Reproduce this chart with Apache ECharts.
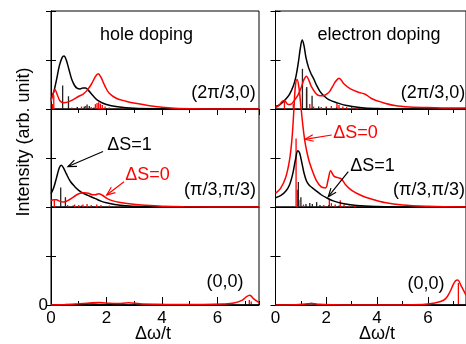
<!DOCTYPE html>
<html>
<head>
<meta charset="utf-8">
<script src="https://cdn.jsdelivr.net/npm/echarts@6/dist/echarts.min.js"></script>
<style>
  html, body { margin: 0; padding: 0; background: #fff; }
  #chart { width: 466px; height: 344px; }
</style>
</head>
<body>
<div id="chart"></div>
<script>
// ---- data: [Δω/t, intensity] ----
// hole doping, (2π/3,0)
const holeA_black = [[0,0.2],[0.1,0.35],[0.2,0.6],[0.3,0.88],[0.4,1.05],[0.47,1.08],[0.55,1.0],[0.65,0.8],[0.75,0.6],[0.85,0.48],[0.95,0.42],[1.05,0.41],[1.15,0.43],[1.25,0.43],[1.35,0.38],[1.5,0.28],[1.7,0.17],[2.0,0.09],[2.4,0.045],[3.0,0.015],[4.0,0.005],[5,0],[7.5,0]];
const holeA_red = [[0,0.15],[0.07,0.3],[0.14,0.4],[0.22,0.3],[0.32,0.17],[0.45,0.13],[0.6,0.14],[0.8,0.19],[1.0,0.26],[1.15,0.3],[1.3,0.38],[1.45,0.5],[1.6,0.66],[1.7,0.72],[1.8,0.65],[1.95,0.46],[2.1,0.32],[2.35,0.22],[2.7,0.16],[3.1,0.11],[3.5,0.07],[4.0,0.035],[4.6,0.01],[5.5,0],[7.5,0]];
const holeA_sticksBlack = [[0.42,0.48],[0.63,0.26],[0.95,0.04],[1.2,0.05],[1.3,0.09],[1.38,0.06],[1.55,0.03],[2.0,0.02],[2.3,0.015]];
const holeA_sticksRed = [[0.05,0.1],[0.1,0.28],[0.75,0.03],[0.95,0.04],[1.1,0.05],[1.25,0.06],[1.45,0.04],[1.6,0.1],[1.66,0.12],[1.72,0.14],[1.78,0.11],[1.85,0.08],[1.95,0.05],[2.1,0.03],[2.3,0.02],[2.6,0.015]];

// hole doping, (π/3,π/3)
const holeB_black = [[0,0.27],[0.1,0.4],[0.2,0.6],[0.3,0.8],[0.37,0.85],[0.45,0.8],[0.55,0.68],[0.7,0.52],[0.85,0.42],[1.0,0.34],[1.2,0.27],[1.4,0.22],[1.6,0.17],[1.8,0.12],[2.0,0.085],[2.3,0.05],[2.7,0.025],[3.2,0.01],[4,0],[7.5,0]];
const holeB_red = [[0,0.13],[0.1,0.15],[0.2,0.15],[0.3,0.12],[0.45,0.1],[0.6,0.13],[0.75,0.18],[0.9,0.24],[1.05,0.28],[1.2,0.29],[1.35,0.28],[1.5,0.25],[1.6,0.25],[1.72,0.27],[1.85,0.24],[2.0,0.18],[2.2,0.13],[2.5,0.09],[2.9,0.06],[3.4,0.035],[4.0,0.015],[4.8,0.005],[7.5,0]];
const holeB_sticksBlack = [[0.35,0.4],[0.52,0.2],[0.8,0.03],[1.1,0.03],[1.5,0.02]];
const holeB_sticksRed = [[0.12,0.14],[0.6,0.04],[0.85,0.05],[1.0,0.04],[1.15,0.05],[1.3,0.06],[1.45,0.04],[1.65,0.05],[1.8,0.04],[2.1,0.03],[2.4,0.02]];

// hole doping, (0,0)
const holeC_black = [[0,0],[1.0,0.01],[1.4,0.02],[1.8,0.01],[3,0],[7.5,0]];
const holeC_red = [[0,0],[0.5,0.01],[1.0,0.025],[1.4,0.04],[1.75,0.05],[2.1,0.035],[2.4,0.03],[2.8,0.045],[3.2,0.025],[3.8,0.015],[4.5,0.01],[5.5,0.01],[6.2,0.02],[6.6,0.04],[6.9,0.1],[7.05,0.17],[7.17,0.2],[7.3,0.13],[7.5,0.05]];
const holeC_sticksBlack = [];
const holeC_sticksRed = [[7.15,0.1],[7.22,0.07]];

// electron doping, (2π/3,0)
const elecA_black = [[0,0.05],[0.2,0.1],[0.4,0.2],[0.55,0.3],[0.7,0.47],[0.8,0.65],[0.9,0.95],[0.98,1.25],[1.05,1.41],[1.12,1.3],[1.2,1.05],[1.3,0.85],[1.4,0.72],[1.5,0.62],[1.6,0.5],[1.75,0.36],[1.9,0.27],[2.1,0.19],[2.4,0.13],[2.8,0.07],[3.4,0.025],[4.0,0.01],[5.0,0],[7.5,0]];
const elecA_red = [[0,0.03],[0.15,0.08],[0.3,0.17],[0.38,0.16],[0.5,0.09],[0.62,0.1],[0.75,0.18],[0.9,0.3],[1.02,0.45],[1.12,0.6],[1.22,0.67],[1.32,0.58],[1.42,0.45],[1.6,0.31],[1.75,0.27],[1.87,0.27],[2.0,0.3],[2.12,0.35],[2.25,0.46],[2.35,0.55],[2.5,0.63],[2.6,0.58],[2.7,0.51],[2.95,0.41],[3.28,0.34],[3.53,0.3],[3.8,0.21],[4.17,0.14],[4.7,0.07],[5.3,0.04],[6.0,0.03],[7.2,0.02],[7.5,0.02]];
const elecA_sticksBlack = [[1.06,0.82],[1.23,0.45],[1.44,0.27],[1.7,0.05],[2.0,0.03],[2.4,0.03]];
const elecA_sticksRed = [[0.35,0.15],[0.7,0.1],[1.22,0.42],[1.35,0.1],[1.5,0.05],[1.8,0.04],[2.0,0.05],[2.2,0.06],[2.42,0.12],[2.5,0.08],[2.65,0.05],[2.8,0.04],[3.0,0.04],[3.2,0.03],[3.4,0.03],[3.6,0.02],[3.9,0.02]];

// electron doping, (π/3,π/3)
const elecB_black = [[0,0.19],[0.2,0.23],[0.4,0.32],[0.55,0.45],[0.68,0.68],[0.78,0.95],[0.88,1.15],[0.95,1.1],[1.03,0.92],[1.12,0.7],[1.22,0.53],[1.32,0.45],[1.45,0.39],[1.6,0.33],[1.8,0.25],[2.0,0.19],[2.3,0.12],[2.7,0.065],[3.2,0.03],[4.0,0.01],[5,0],[7.5,0]];
const elecB_red = [[0,0.28],[0.2,0.38],[0.4,0.6],[0.55,0.95],[0.65,1.4],[0.72,1.95],[0.78,2.45],[0.85,2.6],[0.92,2.45],[1.0,2.05],[1.08,1.65],[1.17,1.3],[1.3,0.98],[1.45,0.74],[1.6,0.55],[1.8,0.41],[1.97,0.39],[2.07,0.55],[2.17,0.74],[2.3,0.63],[2.45,0.6],[2.6,0.57],[2.75,0.46],[3.0,0.34],[3.4,0.23],[3.8,0.16],[4.3,0.09],[5.0,0.04],[6.0,0.015],[7.5,0]];
const elecB_sticksBlack = [[0.9,0.51],[1.0,0.2],[1.2,0.06],[1.35,0.08],[1.45,0.06],[1.62,0.1],[1.75,0.04],[2.1,0.04],[2.5,0.03]];
const elecB_sticksRed = [[0.81,1.4],[0.86,0.35],[0.92,0.15],[1.1,0.05],[1.9,0.04],[2.12,0.17],[2.2,0.08],[2.35,0.05],[2.55,0.14],[2.7,0.05],[2.9,0.03],[3.1,0.03],[3.4,0.02]];

// electron doping, (0,0)
const elecC_black = [[0,0],[1.1,0.005],[1.4,0.03],[1.7,0.005],[2.5,0],[7.5,0]];
const elecC_red = [[0,0],[0.8,0.005],[1.2,0.02],[1.45,0.03],[1.7,0.015],[2.2,0.005],[3,0],[4,0],[5,0],[5.8,0.01],[6.2,0.035],[6.5,0.07],[6.7,0.13],[6.85,0.25],[7.0,0.42],[7.1,0.5],[7.18,0.51],[7.3,0.4],[7.5,0.2]];
const elecC_sticksBlack = [];
const elecC_sticksRed = [[7.2,0.45]];

const panelLabels = ['(2\u03c0/3,0)', '(\u03c0/3,\u03c0/3)', '(0,0)'];

// ---- layout ----
const FONT = '"Liberation Sans", Arial, Helvetica, sans-serif';
const RED = '#ff0000';
const colLeft = [51, 275.5];
const colWidth = [208, 195];
const rowTop = [11, 109, 207];
const rowH = 98;

const panels = [
  { col: 0, row: 0, black: holeA_black, red: holeA_red, sk: holeA_sticksBlack, sr: holeA_sticksRed },
  { col: 0, row: 1, black: holeB_black, red: holeB_red, sk: holeB_sticksBlack, sr: holeB_sticksRed },
  { col: 0, row: 2, black: holeC_black, red: holeC_red, sk: holeC_sticksBlack, sr: holeC_sticksRed },
  { col: 1, row: 0, black: elecA_black, red: elecA_red, sk: elecA_sticksBlack, sr: elecA_sticksRed },
  { col: 1, row: 1, black: elecB_black, red: elecB_red, sk: elecB_sticksBlack, sr: elecB_sticksRed },
  { col: 1, row: 2, black: elecC_black, red: elecC_red, sk: elecC_sticksBlack, sr: elecC_sticksRed },
];
const n = panels.length;

const grid = [], xAxis = [], yAxis = [], series = [];

panels.forEach((p, i) => {
  grid.push({
    left: colLeft[p.col], top: rowTop[p.row], width: colWidth[p.col], height: rowH,
    show: true, borderColor: '#000', borderWidth: 1, backgroundColor: 'transparent'
  });
  const ticked = p.row !== 1;
  // major ticks / labels
  xAxis[i] = {
    gridIndex: i, type: 'value', min: 0, max: 7.5, interval: 2,
    position: p.row === 0 ? 'top' : 'bottom',
    axisLine: { show: true, lineStyle: { color: '#000', width: 1 } },
    axisTick: { show: ticked, inside: true, length: p.row === 2 ? 8 : 6, lineStyle: { color: '#000', width: 1 } },
    axisLabel: { show: p.row === 2, showMaxLabel: false, fontSize: 17, color: '#000', fontFamily: FONT, margin: 5 },
    splitLine: { show: false }
  };
  // minor ticks at every unit
  xAxis[n + i] = {
    gridIndex: i, type: 'value', min: 0, max: 7.5, interval: 1,
    position: p.row === 0 ? 'top' : 'bottom',
    axisLine: { show: false },
    axisTick: { show: ticked, inside: true, length: 4, lineStyle: { color: '#000', width: 1 } },
    axisLabel: { show: false },
    splitLine: { show: false }
  };
  yAxis[i] = {
    gridIndex: i, type: 'value', min: 0, max: 2, interval: 1, position: 'left',
    axisLine: { show: true, lineStyle: { color: '#000', width: 1 } },
    axisTick: { show: true, inside: true, length: 5, lineStyle: { color: '#000' } },
    axisLabel: {
      show: p.col === 0 && p.row === 2, fontSize: 17, color: '#000', fontFamily: FONT, margin: 3,
      formatter: v => (v === 0 ? '0' : '')
    },
    splitLine: { show: false }
  };
  yAxis[n + i] = {
    gridIndex: i, type: 'value', min: 0, max: 2, interval: 1, position: 'right',
    axisLine: { show: true, lineStyle: { color: '#000', width: 1 } },
    axisTick: { show: true, inside: true, length: 5, lineStyle: { color: '#000' } },
    axisLabel: { show: false },
    splitLine: { show: false }
  };

  const stick = (data, color) => ({
    type: 'custom', xAxisIndex: i, yAxisIndex: i, data, silent: true,
    renderItem: (params, api) => {
      const a = api.coord([api.value(0), 0]);
      const b = api.coord([api.value(0), api.value(1)]);
      return { type: 'line', shape: { x1: a[0], y1: a[1], x2: b[0], y2: b[1] },
        style: { stroke: color, lineWidth: 1.3 } };
    }
  });
  series.push(stick(p.sr, RED));
  series.push(stick(p.sk, '#222'));
  series.push({
    type: 'line', xAxisIndex: i, yAxisIndex: i, data: p.black, smooth: 0.35,
    showSymbol: false, symbol: 'none', clip: false,
    lineStyle: { color: '#000', width: 1.5 }
  });
  series.push({
    type: 'line', xAxisIndex: i, yAxisIndex: i, data: p.red, smooth: 0.35,
    showSymbol: false, symbol: 'none', clip: false,
    lineStyle: { color: RED, width: 1.5 }
  });
});

// ---- annotations ----
const txt = (text, x, y, color, extra) => Object.assign({
  type: 'text', x, y, z: 100,
  style: { text, fill: color || '#000', font: '18px ' + FONT, align: 'center', verticalAlign: 'middle' }
}, extra || {});

function arrow(tail, tip, color) {
  const ang = Math.atan2(tail[1] - tip[1], tail[0] - tip[0]);
  const L = 9, w = 0.38;
  const h1 = [tip[0] + L * Math.cos(ang + w), tip[1] + L * Math.sin(ang + w)];
  const h2 = [tip[0] + L * Math.cos(ang - w), tip[1] + L * Math.sin(ang - w)];
  return [
    { type: 'polyline', z: 100, shape: { points: [tail, tip] }, style: { stroke: color, lineWidth: 1.2, fill: null } },
    { type: 'polyline', z: 100, shape: { points: [h1, tip, h2] }, style: { stroke: color, lineWidth: 1.2, fill: null } }
  ];
}

const graphic = [
  txt('hole doping', 146.5, 35),
  txt('electron doping', 379, 35),
  txt(panelLabels[0], 223.5, 93), txt(panelLabels[0], 433, 93),
  txt(panelLabels[1], 220, 190), txt(panelLabels[1], 429, 190),
  txt(panelLabels[2], 225, 282), txt(panelLabels[2], 426, 284),
  txt('\u0394S=1', 129.5, 145), txt('\u0394S=1', 372.5, 166),
  txt('\u0394S=0', 147.5, 175, RED), txt('\u0394S=0', 355.5, 133.5, RED),
  txt('\u0394\u03c9/t', 153, 334), txt('\u0394\u03c9/t', 377, 334),
  txt('Intensity (arb. unit)', 24, 142, '#000', { rotation: Math.PI / 2 }),
  ...arrow([103, 151.5], [68, 166.5], '#000'),
  ...arrow([124, 181.7], [106.7, 195], RED),
  ...arrow([331.7, 135], [305, 139.3], RED),
  ...arrow([348.3, 171.7], [328.3, 196.7], '#000')
];

const chart = echarts.init(document.getElementById('chart'), null, { renderer: 'canvas' });
chart.setOption({
  animation: false,
  backgroundColor: '#fff',
  grid, xAxis, yAxis, series, graphic
});
</script>
</body>
</html>
